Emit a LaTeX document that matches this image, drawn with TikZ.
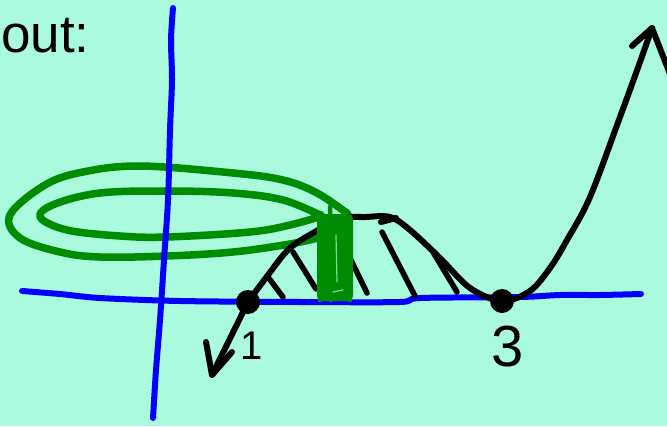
\documentclass[tikz,border=0pt]{standalone}
\usepackage{fontspec}
\setmainfont{Liberation Sans}
\definecolor{bg}{RGB}{170,250,222}
\definecolor{axisblue}{RGB}{0,0,255}
\definecolor{markgreen}{RGB}{0,140,0}
\begin{document}
\begin{tikzpicture}[x=1pt,y=-1pt,
  ink/.style={line width=6pt,line cap=round,line join=round,black},
  axisline/.style={line width=6pt,line cap=round,line join=round,axisblue},
  greenpen/.style={line width=7.5pt,line cap=round,line join=round,markgreen},
  hatch/.style={line width=5.5pt,line cap=round,black},
  dot/.style={circle,fill=black,inner sep=0pt,minimum size=24pt},
  numlabel/.style={inner sep=0pt,text=black}]
\fill[bg] (0,0) rectangle (667,426);
\useasboundingbox (0,0) rectangle (667,426);
\clip (0,0) rectangle (667,426);

% title fragment
\node[anchor=base west,inner sep=0pt,font=\fontsize{53}{60}\selectfont] (title) at (1,52) {out:};

% green loops
\draw[greenpen] plot[smooth,tension=0.6] coordinates {(348,214) (317,193) (283,180) (233,173) (140,166) (83,172) (45,185) (10,215) (20,238) (60,252) (100,257) (167,256) (233,252) (290,244) (322,237)};
\draw[greenpen] plot[smooth,tension=0.6] coordinates {(322,216) (283,200) (233,193) (167,191) (100,193) (55,204) (40,217) (67,230) (120,236) (167,237) (250,232) (290,225) (322,216)};

% axes
\draw[axisline] plot[smooth] coordinates {(173,8) (171,40) (172,80) (170,130) (168,200) (164,260) (160,320) (156,370) (153,418)};
\draw[axisline] plot[smooth] coordinates {(22,291) (60,294) (100,298) (180,301) (300,302) (400,302) (420,298) (520,297) (560,295) (600,295) (641,294)};

% dots
\node[dot] (r1) at (248,302) {};
\node[dot] (r3) at (502,301) {};
\coordinate (tipL) at (212,375);
\coordinate (tipR) at (652,28);

% curve
\draw[ink] (r1.center) -- (tipL);
\draw[ink] (206,342) -- (tipL) -- (232,352);
\draw[ink] plot[smooth,tension=0.55] coordinates {(248,302) (268,275) (290,248) (320,229) (342,218) (365,217) (390,217) (410,230) (440,258) (470,288) (502,301) (530,291) (550,268) (567,240) (590,197) (620,117) (640,62) (652,28)};
\draw[ink] (632,46) -- (tipR) -- (670,74);
\draw[ink] (381,222) -- (396,218);

% hatching
\draw[hatch] (268,277) -- (283,297);
\draw[hatch] (293,252) -- (316,289);
\draw[hatch] (350,258) -- (367,293);
\draw[hatch] (382,232) -- (415,296);
\draw[hatch] (433,252) -- (457,292);

% green block
\fill[markgreen,rounded corners=5pt] (317,214) rectangle (353,301);
\draw[greenpen,line width=4.5pt] (321,213) -- (320,300);
\draw[greenpen,line width=4.5pt] (330,207) -- (331,300);
\draw[greenpen,line width=4.5pt] (347,211) -- (350,300);
\draw[line width=1.2pt,line cap=round,bg!70!markgreen] (336,235) -- (337,282);
\draw[line width=1.2pt,line cap=round,bg!70!markgreen] (333,292) -- (343,290);

% labels
\node[numlabel,font=\fontsize{40}{42}\selectfont] (one) at (252,346) {1};
\node[numlabel,font=\fontsize{58}{60}\selectfont] (three) at (508,347) {3};
\end{tikzpicture}
\end{document}
